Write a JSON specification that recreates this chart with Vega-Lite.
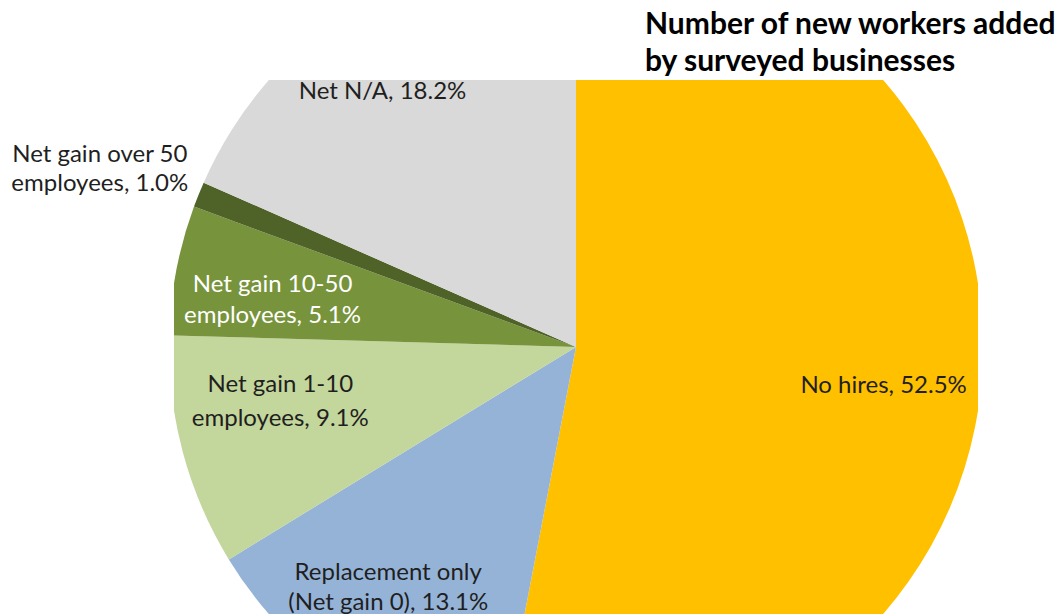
{
  "$schema": "https://vega.github.io/schema/vega-lite/v6.json",
  "width": 804,
  "height": 534,
  "autosize": {"type": "none"},
  "padding": {"left": 174, "top": 80, "right": 82, "bottom": 2},
  "background": "white",
  "view": {"stroke": null},
  "title": {
    "text": ["Number of new workers added", "by surveyed businesses"],
    "anchor": "start",
    "frame": "group",
    "dx": 471,
    "offset": -168,
    "font": "Lato",
    "fontSize": 30,
    "fontWeight": "bold",
    "color": "#000000",
    "lineHeight": 37
  },
  "data": {
    "values": [
      {"category": "No hires", "percent": 52.5, "rank": 1, "label": "No hires, 52.5%"},
      {"category": "Replacement only (Net gain 0)", "percent": 13.1, "rank": 2, "label": "Replacement only\n(Net gain 0), 13.1%"},
      {"category": "Net gain 1-10 employees", "percent": 9.1, "rank": 3, "label": "Net gain 1-10\nemployees, 9.1%"},
      {"category": "Net gain 10-50 employees", "percent": 5.1, "rank": 4, "label": "Net gain 10-50\nemployees, 5.1%"},
      {"category": "Net gain over 50 employees", "percent": 1.0, "rank": 5, "label": "Net gain over 50\nemployees, 1.0%"},
      {"category": "Net N/A", "percent": 18.2, "rank": 6, "label": "Net N/A, 18.2%"}
    ]
  },
  "encoding": {
    "theta": {"field": "percent", "type": "quantitative", "stack": true},
    "order": {"field": "rank", "type": "quantitative"}
  },
  "layer": [
    {
      "mark": {"type": "arc", "outerRadius": 407, "clip": true},
      "encoding": {
        "color": {
          "field": "category",
          "type": "nominal",
          "scale": {
            "domain": ["No hires", "Replacement only (Net gain 0)", "Net gain 1-10 employees", "Net gain 10-50 employees", "Net gain over 50 employees", "Net N/A"],
            "range": ["#FFC000", "#95B3D7", "#C3D69B", "#77933C", "#4F6228", "#D9D9D9"]
          },
          "legend": null
        }
      }
    },
    {
      "mark": {"type": "text", "radius": 305, "font": "Lato", "fontSize": 24, "lineBreak": "\n", "lineHeight": 32, "align": "center", "baseline": "middle", "dx": 4, "dy": 10, "fill": "#1f1f1f"},
      "encoding": {"text": {"condition": {"test": "datum.category === 'No hires'", "field": "label"}, "value": ""}}
    },
    {
      "mark": {"type": "text", "radius": 305, "font": "Lato", "fontSize": 24, "lineBreak": "\n", "lineHeight": 30, "align": "center", "baseline": "middle", "dx": -14, "dy": -25, "fill": "#1f1f1f"},
      "encoding": {"text": {"condition": {"test": "datum.category === 'Replacement only (Net gain 0)'", "field": "label"}, "value": ""}}
    },
    {
      "mark": {"type": "text", "radius": 305, "font": "Lato", "fontSize": 24, "lineBreak": "\n", "lineHeight": 34, "align": "center", "baseline": "middle", "dx": -1, "dy": -40, "fill": "#1f1f1f"},
      "encoding": {"text": {"condition": {"test": "datum.category === 'Net gain 1-10 employees'", "field": "label"}, "value": ""}}
    },
    {
      "mark": {"type": "text", "radius": 305, "font": "Lato", "fontSize": 24, "lineBreak": "\n", "lineHeight": 31, "align": "center", "baseline": "middle", "dx": -4, "dy": -4, "fill": "#ffffff"},
      "encoding": {"text": {"condition": {"test": "datum.category === 'Net gain 10-50 employees'", "field": "label"}, "value": ""}}
    },
    {
      "mark": {"type": "text", "radius": 305, "font": "Lato", "fontSize": 24, "lineBreak": "\n", "lineHeight": 32, "align": "center", "baseline": "middle", "dx": -27, "dy": 1, "fill": "#1f1f1f"},
      "encoding": {"text": {"condition": {"test": "datum.category === 'Net N/A'", "field": "label"}, "value": ""}}
    },
    {
      "mark": {"type": "text", "radius": 505, "font": "Lato", "fontSize": 24, "lineBreak": "\n", "lineHeight": 29, "align": "center", "baseline": "middle", "dx": -8, "dy": -3, "fill": "#1f1f1f"},
      "encoding": {"text": {"condition": {"test": "datum.category === 'Net gain over 50 employees'", "field": "label"}, "value": ""}}
    }
  ]
}
